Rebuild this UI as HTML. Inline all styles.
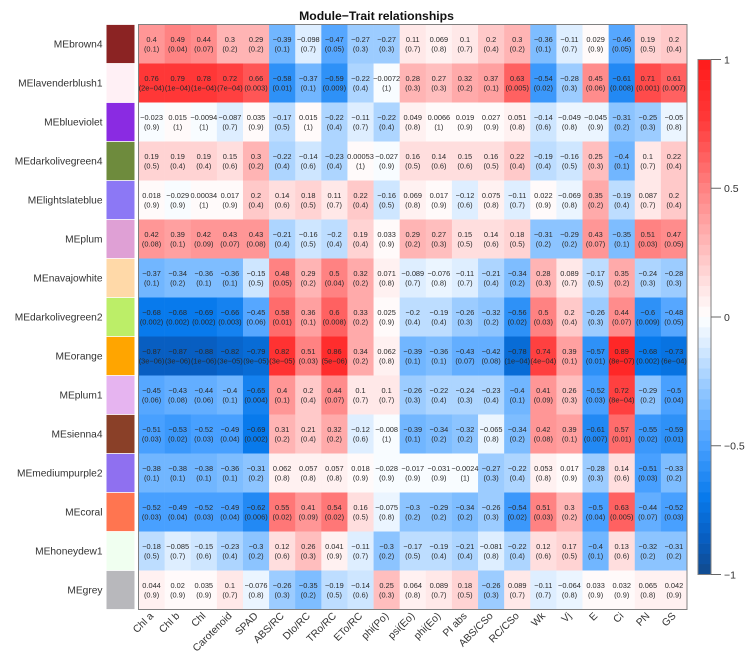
<!DOCTYPE html>
<html lang="en">
<head>
<meta charset="utf-8">
<title>Module-Trait relationships</title>
<style>
html,body{margin:0;padding:0;background:#fff;width:750px;height:656px;overflow:hidden}
svg{display:block}
text{font-family:"Liberation Sans",sans-serif}
</style>
</head>
<body>
<svg id="chart" xmlns="http://www.w3.org/2000/svg" width="750" height="656" viewBox="0 0 750 656">
<text x="376.5" y="20" text-anchor="middle" font-size="12.2" font-weight="bold" fill="#111">Module−Trait relationships</text>
</svg>
<script>
const modules = ["MEbrown4","MElavenderblush1","MEblueviolet","MEdarkolivegreen4","MElightslateblue","MEplum","MEnavajowhite","MEdarkolivegreen2","MEorange","MEplum1","MEsienna4","MEmediumpurple2","MEcoral","MEhoneydew1","MEgrey"];
const moduleColors = ["#8b2323","#fff0f5","#8a2be2","#6e8b3d","#8c78f5","#dfa0d5","#ffd9a8","#bcee68","#ffa500","#e6b4f0","#8a4028","#8f70f0","#ff7550","#f0fff0","#b8b8bc"];
const traits = ["Chl a","Chl b","Chl","Carotenoid","SPAD","ABS/RC","DIo/RC","TRo/RC","ETo/RC","phi(Po)","psi(Eo)","phi(Eo)","PI abs","ABS/CSo","RC/CSo","Wk","Vj","E","Ci","PN","GS"];
const colorbarTicks = [1,0.5,0,-0.5,-1];
const corr = [
[0.4,0.49,0.44,0.3,0.29,-0.39,-0.098,-0.47,-0.27,-0.27,0.11,0.069,0.1,0.2,0.3,-0.36,-0.11,0.029,-0.46,0.19,0.2],
[0.76,0.79,0.78,0.72,0.66,-0.58,-0.37,-0.59,-0.22,-0.0072,0.28,0.27,0.32,0.37,0.63,-0.54,-0.28,0.45,-0.61,0.71,0.61],
[-0.023,0.015,-0.0094,-0.087,0.035,-0.17,0.015,-0.22,-0.11,-0.22,0.049,0.0066,0.019,0.027,0.051,-0.14,-0.049,-0.045,-0.31,-0.25,-0.05],
[0.19,0.19,0.19,0.15,0.3,-0.22,-0.14,-0.23,0.00053,-0.027,0.16,0.14,0.15,0.16,0.22,-0.19,-0.16,0.25,-0.4,0.1,0.22],
[0.018,-0.029,0.00034,0.017,0.2,0.14,0.18,0.11,0.22,-0.16,0.069,0.017,-0.12,0.075,-0.11,0.022,-0.069,0.35,-0.19,0.087,0.2],
[0.42,0.39,0.42,0.43,0.43,-0.21,-0.16,-0.2,0.19,0.033,0.29,0.27,0.15,0.14,0.18,-0.31,-0.29,0.43,-0.35,0.51,0.47],
[-0.37,-0.34,-0.36,-0.36,-0.15,0.48,0.29,0.5,0.32,0.071,-0.089,-0.076,-0.11,-0.21,-0.34,0.28,0.089,-0.17,0.35,-0.24,-0.28],
[-0.68,-0.68,-0.69,-0.66,-0.45,0.58,0.36,0.6,0.33,0.025,-0.2,-0.19,-0.26,-0.32,-0.56,0.5,0.2,-0.26,0.44,-0.6,-0.48],
[-0.87,-0.87,-0.88,-0.82,-0.79,0.82,0.51,0.86,0.34,0.062,-0.39,-0.36,-0.43,-0.42,-0.78,0.74,0.39,-0.57,0.89,-0.68,-0.73],
[-0.45,-0.43,-0.44,-0.4,-0.65,0.4,0.2,0.44,0.1,0.1,-0.26,-0.22,-0.24,-0.23,-0.4,0.41,0.26,-0.52,0.72,-0.29,-0.5],
[-0.51,-0.53,-0.52,-0.49,-0.69,0.31,0.21,0.32,-0.12,-0.008,-0.39,-0.34,-0.32,-0.065,-0.34,0.42,0.39,-0.61,0.57,-0.55,-0.59],
[-0.38,-0.38,-0.38,-0.36,-0.31,0.062,0.057,0.057,0.018,-0.028,-0.017,-0.031,-0.0024,-0.27,-0.22,0.053,0.017,-0.28,0.14,-0.51,-0.33],
[-0.52,-0.49,-0.52,-0.49,-0.62,0.55,0.41,0.54,0.16,-0.075,-0.3,-0.29,-0.34,-0.26,-0.54,0.51,0.3,-0.5,0.63,-0.44,-0.52],
[-0.18,-0.085,-0.15,-0.23,-0.3,0.12,0.26,0.041,-0.11,-0.3,-0.17,-0.19,-0.21,-0.081,-0.22,0.12,0.17,-0.4,0.13,-0.32,-0.31],
[0.044,0.02,0.035,0.1,-0.076,-0.26,-0.35,-0.19,-0.14,0.25,0.064,0.089,0.18,-0.26,0.089,-0.11,-0.064,0.033,0.032,0.065,0.042]
];
const pvals = [
["0.1","0.04","0.07","0.2","0.2","0.1","0.7","0.05","0.3","0.3","0.7","0.8","0.7","0.4","0.2","0.1","0.7","0.9","0.05","0.5","0.4"],
["2e−04","1e−04","1e−04","7e−04","0.003","0.01","0.1","0.009","0.4","1","0.3","0.3","0.2","0.1","0.005","0.02","0.3","0.06","0.008","0.001","0.007"],
["0.9","1","1","0.7","0.9","0.5","1","0.4","0.7","0.4","0.8","1","0.9","0.9","0.8","0.6","0.8","0.9","0.2","0.3","0.8"],
["0.5","0.4","0.4","0.6","0.2","0.4","0.6","0.4","1","0.9","0.5","0.6","0.6","0.5","0.4","0.4","0.5","0.3","0.1","0.7","0.4"],
["0.9","0.9","1","0.9","0.4","0.6","0.5","0.7","0.4","0.5","0.8","0.9","0.6","0.8","0.7","0.9","0.8","0.2","0.4","0.7","0.4"],
["0.08","0.1","0.09","0.07","0.08","0.4","0.5","0.4","0.4","0.9","0.2","0.3","0.5","0.6","0.5","0.2","0.2","0.07","0.1","0.03","0.05"],
["0.1","0.2","0.1","0.1","0.5","0.05","0.2","0.04","0.2","0.8","0.7","0.8","0.7","0.4","0.2","0.3","0.7","0.5","0.2","0.3","0.3"],
["0.002","0.002","0.002","0.003","0.06","0.01","0.1","0.008","0.2","0.9","0.4","0.4","0.3","0.2","0.02","0.03","0.4","0.3","0.07","0.009","0.05"],
["3e−06","3e−06","1e−06","3e−05","9e−05","3e−05","0.03","5e−06","0.2","0.8","0.1","0.1","0.07","0.08","1e−04","4e−04","0.1","0.01","8e−07","0.002","6e−04"],
["0.06","0.08","0.06","0.1","0.004","0.1","0.4","0.07","0.7","0.7","0.3","0.4","0.3","0.4","0.1","0.09","0.3","0.03","8e−04","0.2","0.04"],
["0.03","0.02","0.03","0.04","0.002","0.2","0.4","0.2","0.6","1","0.1","0.2","0.2","0.8","0.2","0.08","0.1","0.007","0.01","0.02","0.01"],
["0.1","0.1","0.1","0.1","0.2","0.8","0.8","0.8","0.9","0.9","0.9","0.9","1","0.3","0.4","0.8","0.9","0.3","0.6","0.03","0.2"],
["0.03","0.04","0.03","0.04","0.006","0.02","0.09","0.02","0.5","0.8","0.2","0.2","0.2","0.3","0.02","0.03","0.2","0.04","0.005","0.07","0.03"],
["0.5","0.7","0.6","0.4","0.2","0.6","0.3","0.9","0.7","0.2","0.5","0.4","0.4","0.8","0.4","0.6","0.5","0.1","0.6","0.2","0.2"],
["0.9","0.9","0.9","0.7","0.8","0.3","0.2","0.5","0.6","0.3","0.8","0.7","0.5","0.3","0.7","0.7","0.8","0.9","0.9","0.8","0.9"]
];

const svg = document.getElementById('chart');
const NS = 'http://www.w3.org/2000/svg';
const plot = {left:138.5, right:687, top:24.5, bottom:609.5};
const bar = {left:698, right:711, top:59.5, bottom:574.5};
const colW = (plot.right - plot.left) / traits.length;
const rowH = (plot.bottom - plot.top) / modules.length;
const xScale = i => plot.left + i * colW;
const yScale = i => plot.top + i * rowH;
const barY = v => bar.top + (1 - v) / 2 * (bar.bottom - bar.top);
const colorStops = [[-1,18,74,140],[-0.87,8,92,190],[-0.7,8,122,236],[-0.5,72,160,255],[-0.3,140,196,255],[-0.1,222,238,255],[0,255,255,255],[0.1,255,232,232],[0.3,255,180,180],[0.5,255,130,130],[0.76,255,58,58],[1,255,26,26]];
const STEPS = 50;
function colorFor(v){
  const clamped = Math.max(-0.9999, Math.min(0.9999, v));
  let bin = Math.floor((clamped + 1) / 2 * STEPS);
  const c = (bin + 0.5) / STEPS * 2 - 1;
  for (let k = 0; k < colorStops.length - 1; k++) {
    const a = colorStops[k], b = colorStops[k + 1];
    if (c >= a[0] && c <= b[0]) {
      const t = (c - a[0]) / (b[0] - a[0]);
      const ch = n => Math.round(a[n] + (b[n] - a[n]) * t);
      return 'rgb(' + ch(1) + ',' + ch(2) + ',' + ch(3) + ')';
    }
  }
  return '#fff';
}
function shape(tag, attrs, parent){
  const el = document.createElementNS(NS, tag);
  for (const k in attrs) el.setAttribute(k, attrs[k]);
  (parent || svg).appendChild(el);
  return el;
}
const fmt = v => String(v).replace('-', '−');

modules.forEach((name, r) => {
  const swatch = shape('rect', {x:106.5, y:yScale(r) + 0.4, width:28, height:rowH - 0.8, fill:moduleColors[r]});
  
  
  const label = shape('text', {x:102.5, y:yScale(r) + rowH / 2 + 3.6, 'text-anchor':'end', 'font-size':10.2, fill:'#333'});
  
  
  label.textContent = name;
});

corr.forEach((row, r) => {
  row.forEach((v, c) => {
    const cell = shape('rect', {x:xScale(c), y:yScale(r), width:colW + 0.3, height:rowH + 0.3, fill:colorFor(v)});
    
    
  });
});
corr.forEach((row, r) => {
  row.forEach((v, c) => {
    const cx = xScale(c) + colW / 2, cy = yScale(r) + rowH / 2;
    const t1 = shape('text', {x:cx, y:cy - 2, 'text-anchor':'middle', 'font-size':7.4, fill:'#2a2a2a'});
    
    
    t1.textContent = fmt(v);
    const t2 = shape('text', {x:cx, y:cy + 7.4, 'text-anchor':'middle', 'font-size':7.4, fill:'#2a2a2a'});
    
    
    t2.textContent = '(' + pvals[r][c] + ')';
  });
});
const frame = shape('rect', {x:plot.left, y:plot.top, width:plot.right - plot.left, height:plot.bottom - plot.top, fill:'none', stroke:'#808080', 'stroke-width':1});



traits.forEach((name, c) => {
  const ax = xScale(c) + colW / 2 + 2.5, ay = plot.bottom + 7;
  const label = shape('text', {x:ax, y:ay, 'text-anchor':'end', 'font-size':10.3, fill:'#333', transform:'rotate(-45 ' + ax + ' ' + ay + ')'});
  
  
  label.textContent = name;
});

for (let i = 0; i < STEPS; i++) {
  const hi = 1 - i * 2 / STEPS, lo = hi - 2 / STEPS;
  const seg = shape('rect', {x:bar.left, y:barY(hi), width:bar.right - bar.left, height:barY(lo) - barY(hi) + 0.3, fill:colorFor((hi + lo) / 2)});
  
  
}
const barFrame = shape('rect', {x:bar.left, y:bar.top, width:bar.right - bar.left, height:bar.bottom - bar.top, fill:'none', stroke:'#808080', 'stroke-width':1});


colorbarTicks.forEach(v => {
  const y = barY(v);
  const tick = shape('line', {x1:bar.right, x2:bar.right + 10, y1:y, y2:y, stroke:'#666', 'stroke-width':1});
  
  
  const label = shape('text', {x:bar.right + 13, y:y + 3.8, 'font-size':10.5, fill:'#333'});
  
  
  label.textContent = fmt(v);
});
</script>
</body>
</html>
